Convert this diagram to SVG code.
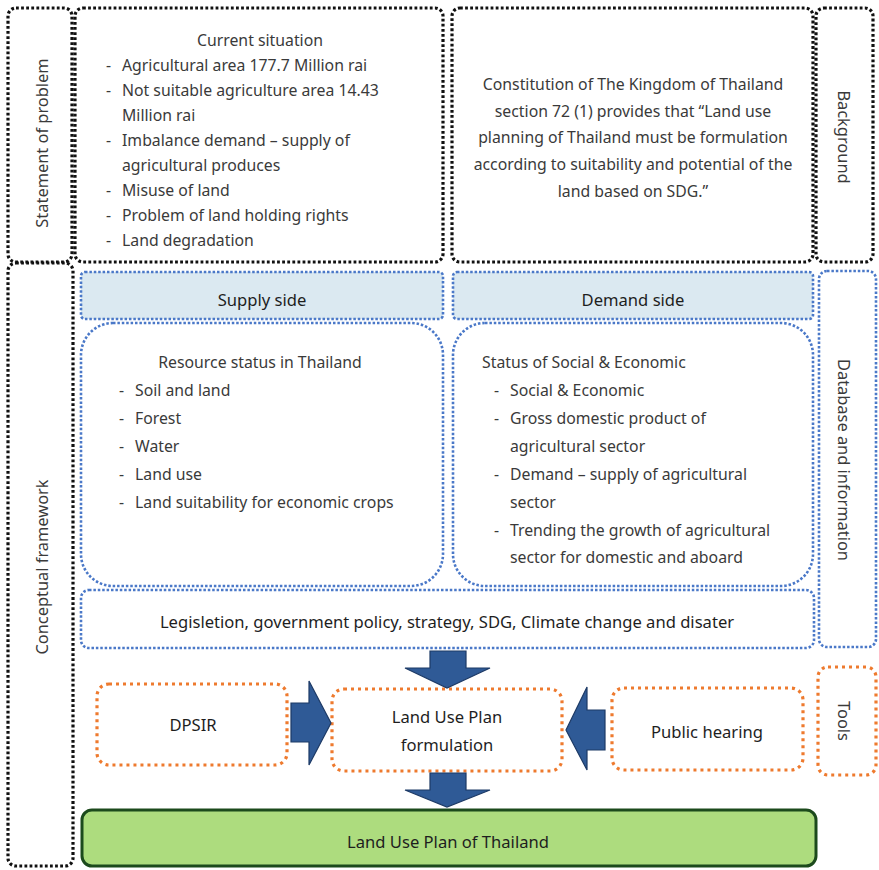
<svg xmlns="http://www.w3.org/2000/svg" width="879" height="870" viewBox="0 0 879 870">
<style>
.blk{fill:none;stroke:#111;stroke-width:3.2;stroke-dasharray:2.8 2.3}
.blu{fill:none;stroke:#4a78c8;stroke-width:2.6;stroke-dasharray:2.5 1.9}
.blf{fill:#dbe9f1;stroke:#4a78c8;stroke-width:2.6;stroke-dasharray:2.5 1.9}
.org{fill:none;stroke:#ee7a2e;stroke-width:3.2;stroke-dasharray:3 4}
.t{font-family:"Noto Sans","Liberation Sans",sans-serif;font-size:15.8px;fill:#3a3a3a}
.m{text-anchor:middle}
.d{fill:#1e1e1e;font-size:16.6px}
.v{font-size:16.4px}
.arr{fill:#2f5a96;stroke:#1d3a66;stroke-width:1.2}
</style>
<rect width="879" height="870" fill="#fff"/>
<g id="statement-of-problem">
<rect class="blk" x="8" y="8" width="64" height="254" rx="8"/>
<text class="t m v" transform="translate(48,143) rotate(-90)">Statement of problem</text>
</g>
<g id="conceptual-framework">
<rect class="blk" x="8" y="263" width="65" height="603" rx="8"/>
<text class="t m v" transform="translate(48,567) rotate(-90)">Conceptual framework</text>
</g>
<g id="current-situation">
<rect class="blk" x="75" y="8" width="368" height="254" rx="8"/>
<text class="t m" x="260" y="46">Current situation</text>
<g class="t">
<text x="106" y="71">-</text><text x="122" y="71">Agricultural area 177.7 Million rai</text>
<text x="106" y="96">-</text><text x="122" y="96">Not suitable agriculture area 14.43</text>
<text x="122" y="121">Million rai</text>
<text x="106" y="146">-</text><text x="122" y="146">Imbalance demand – supply of</text>
<text x="122" y="171">agricultural produces</text>
<text x="106" y="196">-</text><text x="122" y="196">Misuse of land</text>
<text x="106" y="221">-</text><text x="122" y="221">Problem of land holding rights</text>
<text x="106" y="246">-</text><text x="122" y="246">Land degradation</text>
</g>
</g>
<g id="constitution">
<rect class="blk" x="452" y="8" width="361" height="254" rx="8"/>
<g class="t m">
<text x="633" y="90">Constitution of The Kingdom of Thailand</text>
<text x="633" y="117">section 72 (1) provides that “Land use</text>
<text x="633" y="143">planning of Thailand must be formulation</text>
<text x="633" y="170">according to suitability and potential of the</text>
<text x="633" y="197">land based on SDG.”</text>
</g>
</g>
<g id="background">
<rect class="blk" x="816" y="8" width="57" height="254" rx="8"/>
<text class="t m v" transform="translate(838,137) rotate(90)">Background</text>
</g>
<g id="supply-side">
<rect class="blf" x="81" y="272" width="362" height="47" rx="4"/>
<text class="t m d" x="262" y="306">Supply side</text>
</g>
<g id="demand-side">
<rect class="blf" x="453" y="272" width="360" height="47" rx="4"/>
<text class="t m d" x="633" y="306">Demand side</text>
</g>
<g id="resource-status">
<rect class="blu" x="81" y="323" width="362" height="263" rx="32"/>
<text class="t m" x="260" y="368">Resource status in Thailand</text>
<g class="t">
<text x="119" y="396">-</text><text x="135" y="396">Soil and land</text>
<text x="119" y="424">-</text><text x="135" y="424">Forest</text>
<text x="119" y="452">-</text><text x="135" y="452">Water</text>
<text x="119" y="480">-</text><text x="135" y="480">Land use</text>
<text x="119" y="508">-</text><text x="135" y="508">Land suitability for economic crops</text>
</g>
</g>
<g id="social-economic">
<rect class="blu" x="453" y="323" width="360" height="263" rx="32"/>
<g class="t">
<text x="482" y="368">Status of Social &amp; Economic</text>
<text x="494" y="396">-</text><text x="510" y="396">Social &amp; Economic</text>
<text x="494" y="424">-</text><text x="510" y="424">Gross domestic product of</text>
<text x="510" y="452">agricultural sector</text>
<text x="494" y="480">-</text><text x="510" y="480">Demand – supply of agricultural</text>
<text x="510" y="508">sector</text>
<text x="494" y="536">-</text><text x="510" y="536">Trending the growth of agricultural</text>
<text x="510" y="563">sector for domestic and aboard</text>
</g>
</g>
<g id="legislation">
<rect class="blu" x="81" y="590" width="733" height="58" rx="8"/>
<text class="t m d" x="447" y="628">Legisletion, government policy, strategy, SDG, Climate change and disater</text>
</g>
<g id="database">
<rect class="blu" x="819" y="271" width="57" height="376" rx="8"/>
<text class="t m v" transform="translate(838,460) rotate(90)">Database and information</text>
</g>
<g id="dpsir">
<rect class="org" x="97" y="684" width="190" height="81" rx="12"/>
<text class="t m d" x="193" y="731">DPSIR</text>
</g>
<g id="lup-formulation">
<rect class="org" x="332" y="689" width="230" height="82" rx="12"/>
<text class="t m d" x="447" y="723">Land Use Plan</text>
<text class="t m d" x="447" y="751">formulation</text>
</g>
<g id="public-hearing">
<rect class="org" x="612" y="688" width="191" height="82" rx="12"/>
<text class="t m d" x="707" y="738">Public hearing</text>
</g>
<g id="tools">
<rect class="org" x="818" y="667" width="58" height="108" rx="10"/>
<text class="t m v" transform="translate(838,721) rotate(90)">Tools</text>
</g>
<g id="land-use-plan">
<rect x="82" y="810" width="734" height="56" rx="10" fill="#addc7e" stroke="#1c4a1c" stroke-width="3"/>
<text class="t m d" x="448" y="848">Land Use Plan of Thailand</text>
</g>
<g id="connectors">
<polygon class="arr" points="430,651 466,651 466,668 490,668 447,688 405,668 430,668"/>
<polygon class="arr" points="430,773 466,773 466,790 490,790 447,807 405,790 430,790"/>
<polygon class="arr" points="291,703 309,703 309,681 331,723 309,765 309,742 291,742"/>
<polygon class="arr" points="605,710 587,710 587,687 566,730 587,770 587,750 605,750"/>
</g>
</svg>
